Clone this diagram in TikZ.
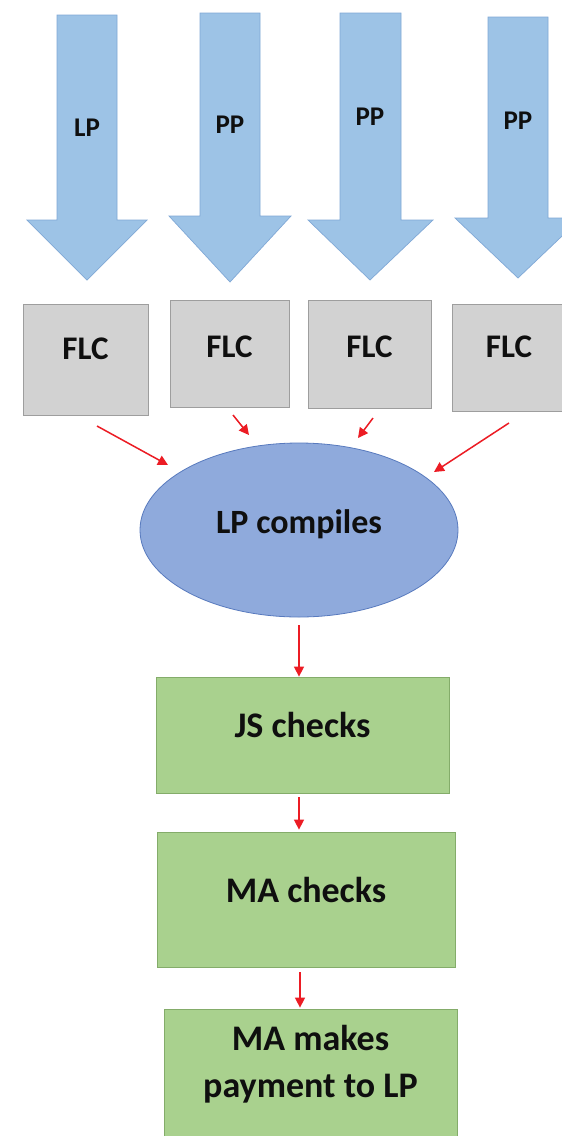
\documentclass[tikz,border=0pt]{standalone}
\usepackage{fontspec}
\setmainfont{Carlito}
\usetikzlibrary{arrows.meta,calc,shapes.geometric}
\definecolor{arrowblue}{RGB}{157,195,230}
\definecolor{arrowedge}{RGB}{128,168,214}
\definecolor{flcgray}{RGB}{210,210,210}
\definecolor{flcedge}{RGB}{158,158,158}
\definecolor{ellfill}{RGB}{143,170,220}
\definecolor{elledge}{RGB}{88,122,190}
\definecolor{greenfill}{RGB}{169,209,142}
\definecolor{greenedge}{RGB}{132,172,106}
\definecolor{redline}{RGB}{236,28,36}
\definecolor{txt}{RGB}{15,15,15}
\begin{document}
\begin{tikzpicture}[x=1pt,y=-1pt,
  blockarrow/.style={fill=arrowblue,draw=arrowedge,line width=0.7pt,line join=miter},
  arrowlabel/.style={anchor=base,inner sep=0pt,text=txt,font=\bfseries\fontsize{27}{30}\selectfont},
  flcbox/.style={rectangle,fill=flcgray,draw=flcedge,line width=0.8pt,inner sep=0pt,text=txt,
    font=\bfseries\fontsize{33}{38}\selectfont},
  stepbox/.style={rectangle,fill=greenfill,draw=greenedge,line width=0.8pt,inner sep=0pt,text=txt,
    align=center,font=\bfseries\fontsize{36}{47}\selectfont},
  compbox/.style={ellipse,fill=ellfill,draw=elledge,line width=0.8pt,inner sep=0pt,text=txt,
    font=\bfseries\fontsize{34}{40}\selectfont},
  redarrow/.style={draw=redline,line width=1.5pt,-{Triangle[length=10pt,width=10pt]}}]
\useasboundingbox (0,0) rectangle (562,1136);
\clip (0,0) rectangle (562,1136);
\fill[white] (0,0) rectangle (562,1136);

% block arrows
\draw[blockarrow] (57,15) -- (117,15) -- (117,220) -- (147,220) -- (87,280) -- (27,220) -- (57,220) -- cycle;
\draw[blockarrow] (200,13) -- (260,13) -- (260,216) -- (291,216) -- (230,282) -- (169,216) -- (200,216) -- cycle;
\draw[blockarrow] (340,13) -- (401,13) -- (401,220) -- (433,220) -- (370,280) -- (308,220) -- (340,220) -- cycle;
\draw[blockarrow] (488,17) -- (548,17) -- (548,218) -- (581,218) -- (518,278) -- (455,218) -- (488,218) -- cycle;
\node[arrowlabel] (l1) at (87,136) {LP};
\node[arrowlabel] (l2) at (230,133) {PP};
\node[arrowlabel] (l3) at (370,125) {PP};
\node[arrowlabel] (l4) at (518,129) {PP};

% FLC boxes
\node[flcbox,minimum width=125pt,minimum height=111pt,text height=0pt,text depth=0pt] (f1) at (85.5,359.5) {FLC};
\node[flcbox,minimum width=119pt,minimum height=107pt,text height=7pt,text depth=0pt] (f2) at (229.5,353.5) {FLC};
\node[flcbox,minimum width=123pt,minimum height=108pt,text height=6pt,text depth=0pt] (f3) at (369.5,354) {FLC};
\node[flcbox,minimum width=114pt,minimum height=107pt,text height=0pt,text depth=0pt] (f4) at (509,357.5) {FLC};

% ellipse
\node[compbox,minimum width=318pt,minimum height=174pt,text height=6pt,text depth=0pt] (lp) at (299,530) {LP compiles};

% green steps
\node[stepbox,minimum width=293pt,minimum height=116pt,text height=4pt,text depth=0pt] (js) at (302.5,735) {JS checks};
\node[stepbox,minimum width=298pt,minimum height=135pt,text height=5pt,text depth=0pt] (ma) at (306,899.5) {MA checks};
\node[stepbox,minimum width=293pt,minimum height=141pt,text height=35pt,text depth=0pt] (pay) at (310.5,1079.5) {MA makes\\payment to LP};

% red connectors from FLC boxes
\coordinate (r1s) at (97,426);  \coordinate (r1e) at (168,465);
\coordinate (r2s) at (233,415); \coordinate (r2e) at (249,435);
\coordinate (r3s) at (373,418); \coordinate (r3e) at (358,438);
\coordinate (r4s) at (509,423); \coordinate (r4e) at (434,472);
\draw[redarrow] (r1s) -- (r1e);
\draw[redarrow] (r2s) -- (r2e);
\draw[redarrow] (r3s) -- (r3e);
\draw[redarrow] (r4s) -- (r4e);

% vertical connectors
\draw[redarrow,shorten <=8pt] (lp.south) -- (lp.south |- js.north);
\draw[redarrow,shorten <=4pt,shorten >=2pt] (lp.south |- js.south) -- (lp.south |- ma.north);
\draw[redarrow,shorten <=5pt,shorten >=1pt] ($(lp.south |- ma.south)+(1,0)$) -- ($(lp.south |- pay.north)+(1,0)$);
\end{tikzpicture}
\end{document}
